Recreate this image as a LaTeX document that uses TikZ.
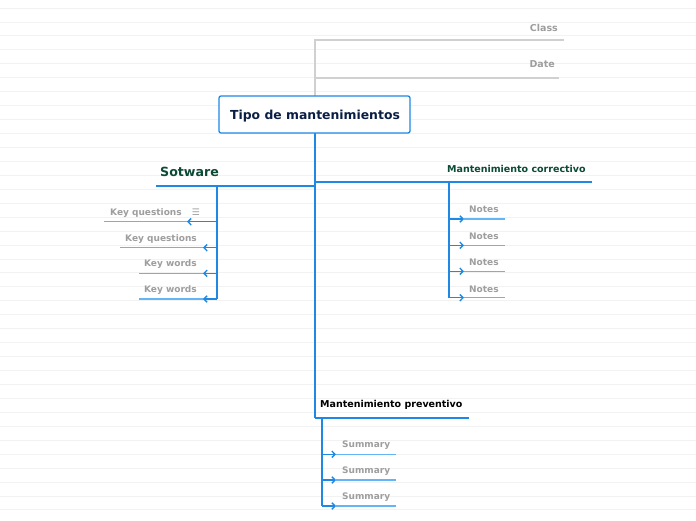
\documentclass[tikz,border=0pt]{standalone}
\usepackage{fontspec}
\setmainfont{DejaVu Sans}
\usetikzlibrary{arrows.meta}
\definecolor{bl}{HTML}{1E88E5}
\definecolor{lbl}{HTML}{64B5F6}
\definecolor{gtx}{HTML}{9E9E9E}
\definecolor{gln}{HTML}{D0D0D0}
\definecolor{bgl}{HTML}{F2F2F2}
\definecolor{navy}{HTML}{0A1E45}
\definecolor{dgreen}{HTML}{0B4A35}
\tikzset{
  conn/.style={draw=bl, line width=1.3pt},
  arr/.style={conn, -{Straight Barb[length=3.2pt,width=6.5pt,line width=1.4pt]}},
  uline/.style={draw=lbl, line width=1.2pt},
  gline/.style={draw=gln, line width=1.1pt},
  small/.style={font=\fontsize{9}{10}\selectfont\bfseries, text=gtx, inner sep=0pt},
  meta/.style={font=\fontsize{9.5}{11}\selectfont\bfseries, text=gtx, inner sep=0pt, anchor=east},
  rootbox/.style={draw=bl, line width=1.3pt, fill=white, rounded corners=2pt, minimum width=191pt, minimum height=37pt, inner sep=0pt},
  roottext/.style={inner sep=0pt, font=\fontsize{12.4}{14}\selectfont\bfseries, text=navy},
  main/.style={inner sep=0pt, anchor=west, font=\fontsize{9.5}{11}\selectfont\bfseries}
}
\begin{document}
\begin{tikzpicture}[x=1pt,y=-1pt]
\useasboundingbox (0,0) rectangle (696,520);
\fill[white] (0,0) rectangle (696,520);
\foreach \k in {0,...,36} {
  \draw[bgl, line width=0.8pt] (0,8+13.94*\k) -- (696,8+13.94*\k);
}
% class / date
\coordinate (g0) at (315,96);
\coordinate (g1) at (315,40);
\coordinate (g2) at (315,78);
\coordinate (ce) at (564,40);
\coordinate (de) at (559,78);
\draw[gline] (g0) -- (g1) -- (ce);
\draw[gline] (g2) -- (de);
\node[meta] (class) at (558,27.5) {Class};
\node[meta] (date) at (555,64.5) {Date};
% main vertical
\coordinate (mtop) at (315,133);
\coordinate (mbot) at (315,418);
\draw[conn] (mtop) -- (mbot);
\node[rootbox] (root) at (314.5,114.5) {};
\node[roottext] (roottxt) at (315,116) {Tipo de mantenimientos};
% Sotware
\coordinate (s0) at (315,186);
\coordinate (s1) at (156,186);
\coordinate (sv0) at (217,186);
\coordinate (sv1) at (217,299);
\draw[conn] (s0) -- (s1);
\draw[conn] (sv0) -- (sv1);
\node[inner sep=0pt, anchor=west, font=\fontsize{12.6}{14}\selectfont\bfseries, text=dgreen] (sw) at (160,172) {Sotware};
% children of Sotware
\coordinate (k1a) at (217,221.7); \coordinate (k1t) at (187,221.7);
\coordinate (k1u0) at (104,221.7); \coordinate (k1u1) at (200,221.7);
\draw[uline] (k1u0) -- (k1u1);
\draw[arr] (k1a) -- (k1t);
\node[small, anchor=west] (kq1) at (110,213.5) {Key questions};
\node[inner sep=0pt, text=gtx, font=\fontsize{9}{10}\selectfont] (ic) at (196,212.5) {☰};
\coordinate (k2a) at (217,247.7); \coordinate (k2t) at (203,247.7);
\coordinate (k2u0) at (120,247.7); \coordinate (k2u1) at (205,247.7);
\draw[uline] (k2u0) -- (k2u1);
\draw[arr] (k2a) -- (k2t);
\node[small, anchor=east] (kq2) at (197,239.5) {Key questions};
\coordinate (k3a) at (217,273.3); \coordinate (k3t) at (203,273.3);
\coordinate (k3u0) at (139,273.3); \coordinate (k3u1) at (205,273.3);
\draw[uline] (k3u0) -- (k3u1);
\draw[arr] (k3a) -- (k3t);
\node[small, anchor=east] (kw1) at (197,264.5) {Key words};
\coordinate (k4a) at (217,299); \coordinate (k4t) at (203,299);
\coordinate (k4u0) at (139,299); \coordinate (k4u1) at (205,299);
\draw[uline] (k4u0) -- (k4u1);
\draw[arr] (k4a) -- (k4t);
\node[small, anchor=east] (kw2) at (197,290.5) {Key words};
% Mantenimiento correctivo
\coordinate (c0) at (315,182);
\coordinate (c1) at (592,182);
\coordinate (cv0) at (449,182);
\coordinate (cv1) at (449,297.7);
\draw[conn] (c0) -- (c1);
\draw[conn] (cv0) -- (cv1);
\node[main, text=dgreen] (corr) at (447,168.5) {Mantenimiento correctivo};
\foreach \y/\t [count=\i] in {219/209.5, 245.3/236.5, 271.3/262.5, 297.7/289.5} {
  \coordinate (n\i a) at (449,\y);
  \coordinate (n\i t) at (464,\y);
  \coordinate (n\i u) at (505,\y);
  \draw[uline] (n\i t) -- (n\i u);
  \draw[arr] (n\i a) -- (n\i t);
  \node[small, anchor=west] (note\i) at (469,\t) {Notes};
}
% Mantenimiento preventivo
\coordinate (p0) at (315,418);
\coordinate (p1) at (469,418);
\coordinate (pv0) at (322,418);
\coordinate (pv1) at (322,506);
\draw[conn] (p0) -- (p1);
\draw[conn] (pv0) -- (pv1);
\node[main, text=black] (prev) at (320,404.5) {Mantenimiento preventivo};
\foreach \y/\t [count=\i] in {454.3/445.5, 480/471.5, 506/497.5} {
  \coordinate (s\i a) at (322,\y);
  \coordinate (s\i t) at (336,\y);
  \coordinate (s\i u) at (396,\y);
  \draw[uline] (s\i t) -- (s\i u);
  \draw[arr] (s\i a) -- (s\i t);
  \node[small, anchor=west] (sum\i) at (342,\t) {Summary};
}
\end{tikzpicture}
\end{document}
